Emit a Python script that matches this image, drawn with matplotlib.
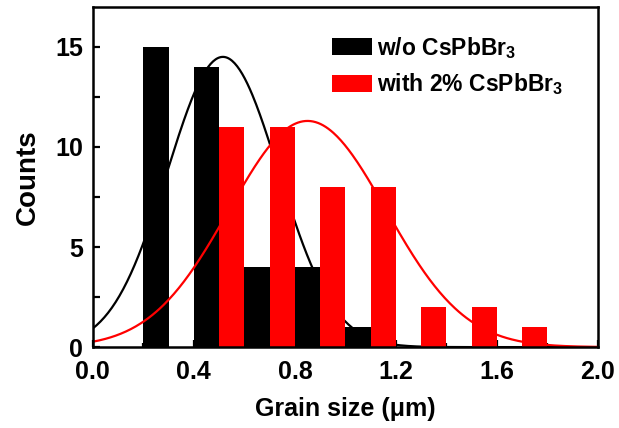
import numpy as np
import matplotlib
matplotlib.use("Agg")
import matplotlib.pyplot as plt
from matplotlib.ticker import MultipleLocator, FormatStrFormatter

plt.rcParams['font.family'] = ['Liberation Sans', 'DejaVu Sans']
plt.rcParams['font.weight'] = 'bold'
plt.rcParams['mathtext.fontset'] = 'custom'
plt.rcParams['mathtext.rm'] = 'Liberation Sans:bold'
plt.rcParams['mathtext.bf'] = 'Liberation Sans:bold'
plt.rcParams['mathtext.default'] = 'bf'

# Histogram data (left bin edges, counts)
edges_ref = [0.2, 0.4, 0.6, 0.8, 1.0]
counts_ref = [15, 14, 4, 4, 1]
edges_cs = [0.5, 0.7, 0.9, 1.1, 1.3, 1.5, 1.7]
counts_cs = [11, 11, 8, 8, 2, 2, 1]
bar_w = 0.1

# Gaussian fit parameters (amplitude, center, sigma)
fit_ref = (14.5, 0.515, 0.22)
fit_cs = (11.3, 0.85, 0.311)

def gauss(x, a, c, s):
    return a * np.exp(-(x - c) ** 2 / (2 * s ** 2))

fig = plt.figure(figsize=(6.19, 4.28), dpi=100)
ax = fig.add_axes([0.150, 0.189, 0.816, 0.795])

ax.bar(edges_ref, counts_ref, width=bar_w, align='edge', color='black', label='w/o CsPbBr$_3$', zorder=2)
ax.bar(edges_cs, counts_cs, width=bar_w, align='edge', color='red', label='with 2% CsPbBr$_3$', zorder=3)

xs = np.linspace(0, 2.0, 400)
ax.plot(xs, gauss(xs, *fit_ref), color='black', lw=1.6, zorder=2.5)
ax.plot(xs, gauss(xs, *fit_cs), color='red', lw=1.6, zorder=4)

ax.set_xlim(0, 2.0)
ax.set_ylim(0, 17)
ax.xaxis.set_major_locator(MultipleLocator(0.4))
ax.xaxis.set_minor_locator(MultipleLocator(0.2))
ax.yaxis.set_major_locator(MultipleLocator(5))
ax.yaxis.set_minor_locator(MultipleLocator(2.5))
ax.xaxis.set_major_formatter(FormatStrFormatter('%.1f'))
ax.tick_params(which='both', direction='in', width=1.6, labelsize=18, length=5)
ax.tick_params(axis='x', which='minor', length=3)
ax.tick_params(axis='x', pad=9.5)
ax.tick_params(axis='y', pad=7)
for sp in ax.spines.values():
    sp.set_linewidth(1.8)
    sp.set_zorder(5)

ax.set_xlabel('Grain size (μm)', fontsize=18, fontweight='bold', labelpad=9)
ax.set_ylabel('Counts', fontsize=20, fontweight='bold', labelpad=10)

ax.legend(loc='upper left', frameon=False, fontsize=16.5, handlelength=1.74, handleheight=0.75,
          handletextpad=0.25, labelspacing=0.47, borderpad=0, borderaxespad=0,
          bbox_to_anchor=(0.473, 0.918))

fig.savefig('out.png', dpi=100)
